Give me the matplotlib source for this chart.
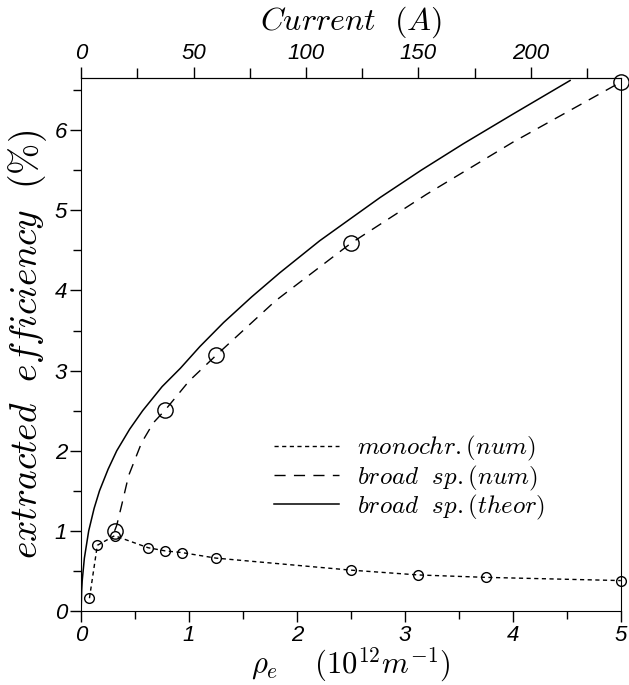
import matplotlib
matplotlib.use('Agg')
import matplotlib.pyplot as plt
from matplotlib.ticker import MultipleLocator, FixedLocator

plt.rcParams['mathtext.fontset'] = 'cm'
plt.rcParams['font.family'] = ['Liberation Sans', 'DejaVu Sans']

# monochromatic (numerical) points
rho_mono = [0.077, 0.15, 0.31, 0.62, 0.78, 0.93, 1.25, 2.5, 3.125, 3.75, 5.0]
eff_mono = [0.16, 0.82, 0.94, 0.79, 0.75, 0.73, 0.66, 0.51, 0.45, 0.42, 0.38]

# broad spectrum (numerical) points and the dashed curve through them
rho_broad = [0.31, 0.78, 1.25, 2.5, 5.0]
eff_broad = [1.0, 2.51, 3.19, 4.59, 6.6]
rho_broad_line = [0.31, 0.33, 0.377, 0.44, 0.56, 0.67, 0.78, 1.0, 1.25, 1.8, 2.5, 3.2, 4.0, 5.0]
eff_broad_line = [1.0, 1.07, 1.33, 1.69, 2.10, 2.35, 2.51, 2.87, 3.19, 3.87, 4.59, 5.2, 5.85, 6.6]

# broad spectrum (theory)
rho_theo = [0.0, 0.005, 0.01, 0.03, 0.07, 0.12, 0.17, 0.25, 0.33, 0.45, 0.57, 0.75, 0.92,
            1.1, 1.32, 1.58, 1.84, 2.21, 2.5, 2.77, 3.15, 3.54, 4.0, 4.53]
eff_theo = [0.0, 0.26, 0.38, 0.66, 1.0, 1.28, 1.5, 1.77, 2.0, 2.27, 2.5, 2.8, 3.03,
            3.3, 3.6, 3.92, 4.22, 4.62, 4.9, 5.16, 5.5, 5.83, 6.2, 6.62]

current_ticks = [0, 50, 100, 150, 200]
current_minor = [25, 75, 125, 175, 225]
amps_per_rho = 48.0

fig = plt.figure(figsize=(6.29, 6.85), dpi=100)
ax = fig.add_axes([0.129, 0.108, 0.858, 0.778])

ax.plot(rho_mono, eff_mono, color='k', lw=1.0, ls=(0, (3, 2.5)),
        label=r'$monochr.(num)$')
ax.plot(rho_mono, eff_mono, 'o', ms=7, mfc='none', mec='k', mew=1.0, clip_on=False)
ax.plot(rho_broad_line, eff_broad_line, color='k', lw=1.0, ls=(0, (8, 6)),
        label=r'$broad\ \ sp.(num)$')
ax.plot(rho_broad, eff_broad, 'o', ms=11, mfc='none', mec='k', mew=1.0, clip_on=False)
ax.plot(rho_theo, eff_theo, color='k', lw=1.1, label=r'$broad\ \ sp.(theor)$')

ax.set_xlim(0, 5)
ax.set_ylim(0, 6.65)
ax.xaxis.set_major_locator(MultipleLocator(1))
ax.xaxis.set_minor_locator(MultipleLocator(0.5))
ax.yaxis.set_major_locator(MultipleLocator(1))
ax.yaxis.set_minor_locator(MultipleLocator(0.5))
ax.tick_params(which='both', direction='out', width=1.0, labelsize=16, pad=2)
ax.tick_params(which='major', length=8)
ax.tick_params(which='minor', length=6)
for lab in ax.get_xticklabels() + ax.get_yticklabels():
    lab.set_fontstyle('italic')

ax.set_xlabel(r'$\rho_e\ \ \ \ (10^{12}m^{-1})$', fontsize=22, labelpad=0)
ax.set_ylabel(r'$extracted\ \ efficiency\ \ (\%)$', fontsize=27, labelpad=4)

top = ax.secondary_xaxis('top', functions=(lambda r: r * amps_per_rho,
                                           lambda a: a / amps_per_rho))
top.xaxis.set_major_locator(FixedLocator(current_ticks))
top.xaxis.set_minor_locator(FixedLocator(current_minor))
top.tick_params(which='both', direction='out', width=1.0, labelsize=16, pad=2)
top.tick_params(which='major', length=8)
top.tick_params(which='minor', length=7)
for lab in top.get_xticklabels():
    lab.set_fontstyle('italic')
top.set_xlabel(r'$Current\ \ (A)$', fontsize=23, labelpad=10)

ax.legend(loc='upper left', bbox_to_anchor=(0.335, 0.355), frameon=False,
          fontsize=18, handlelength=2.6, handletextpad=0.7, labelspacing=0.0,
          borderpad=0)

fig.savefig('out.png', dpi=100)
